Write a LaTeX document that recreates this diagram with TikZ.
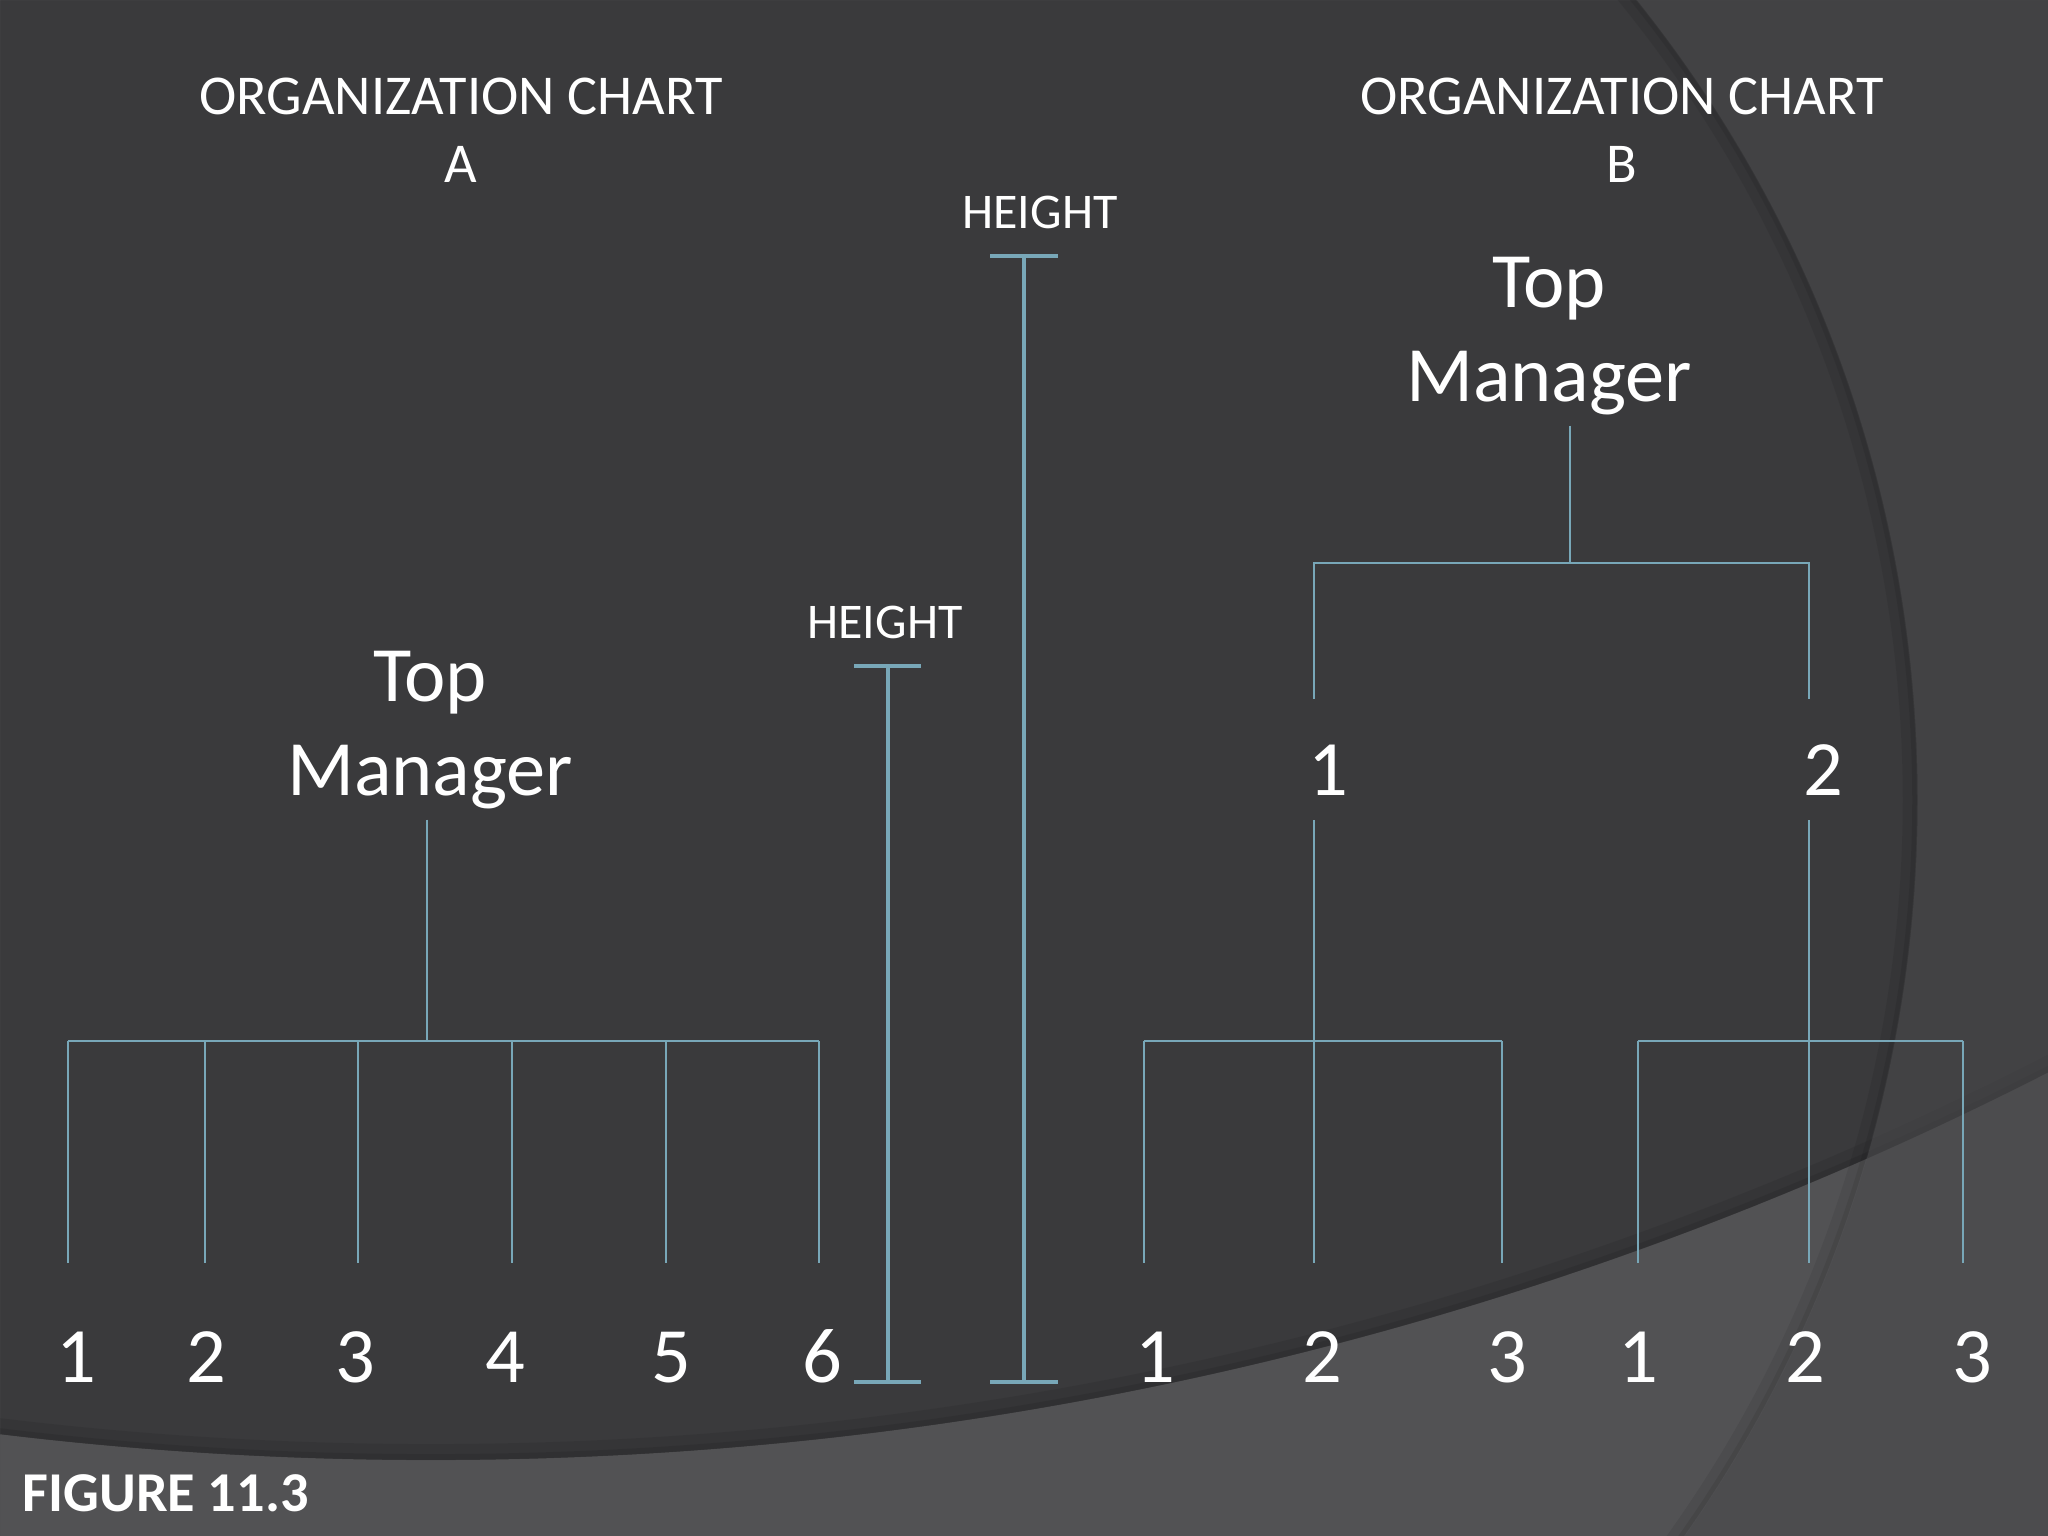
\documentclass[tikz,border=0pt]{standalone}
\usepackage{fontspec}
\setmainfont{Carlito}
\usetikzlibrary{positioning}
\definecolor{slidebg}{HTML}{3A3A3C}
\definecolor{slideband}{HTML}{525254}
\definecolor{slidearc}{HTML}{48484A}
\definecolor{chartline}{HTML}{78A7B8}
\tikzset{
  orgline/.style={draw=chartline, line width=0.75pt},
  hbar/.style={draw=chartline, line width=0.9pt},
  mgr/.style={text=white, align=center, anchor=base, inner sep=3pt, font=\fontsize{22.3}{26.7}\selectfont},
  num/.style={text=white, anchor=base, inner sep=0pt, font=\fontsize{22.3}{26.7}\selectfont},
  charttitle/.style={text=white, align=center, anchor=base, inner sep=0pt, font=\fontsize{16}{19.1}\selectfont},
  hlabel/.style={text=white, anchor=base, inner sep=0pt, font=\fontsize{14.2}{17}\selectfont},
}

\begin{document}
\begin{tikzpicture}[x=0.01cm,y=-0.01cm]
  \useasboundingbox (0,0) rectangle (2048,1536);
  % slide background
  \begin{scope}
    \clip (0,0) rectangle (2048,1536);
    \fill[slidebg] (0,0) rectangle (2048,1536);
    \fill[slideband, even odd rule] (0,0) rectangle (2048,1536) (431,-2100) circle (35.58cm);
    \draw[black, opacity=0.07, line width=0.16cm] (431,-2100) circle (35.50cm);
    \draw[black, opacity=0.08, line width=0.06cm] (431,-2100) circle (35.55cm);
    \fill[slidearc, opacity=0.6, even odd rule] (0,0) rectangle (2048,1536) (638,800) circle (12.79cm);
    \draw[black, opacity=0.07, line width=0.14cm] (638,800) circle (12.71cm);
    \draw[black, opacity=0.08, line width=0.05cm] (638,800) circle (12.76cm);
  \end{scope}

  % titles (base = last line)
  \node[charttitle] (titleA) at (461,182) {ORGANIZATION CHART\\A};
  \node[charttitle] (titleB) at (1622,182) {ORGANIZATION CHART\\B};

  % chart A: flat
  \node[mgr] (topA) at (430,795) {Top\\Manager};
  \coordinate (busA) at (427,1041);
  \draw[orgline] (topA.south -| busA) -- (busA);
  \draw[orgline] (68,1041) -- (819,1041);
  \foreach \lx/\nx [count=\i] in {68/76,205/206,358/355,512/505,666/671,819/822}{
    \coordinate (legA\i) at (\lx,1263);
    \draw[orgline] (legA\i |- busA) -- (legA\i);
    \node[num] (nA\i) at (\nx,1382) {\i};
  }

  % height bars
  \node[hlabel] (hL) at (885,638) {HEIGHT};
  \coordinate (hLtop) at (888,666);
  \coordinate (hLbot) at (888,1382);
  \draw[hbar] (hLtop) -- (hLbot);
  \draw[hbar] (hLtop) ++(-34,0) -- ++(67,0);
  \draw[hbar] (hLbot) ++(-34,0) -- ++(67,0);

  \node[hlabel] (hR) at (1040,228) {HEIGHT};
  \coordinate (hRtop) at (1024,256);
  \coordinate (hRbot) at (1024,1382);
  \draw[hbar] (hRtop) -- (hRbot);
  \draw[hbar] (hRtop) ++(-34,0) -- ++(68,0);
  \draw[hbar] (hRbot) ++(-34,0) -- ++(68,0);

  % chart B: tall
  \node[mgr] (topB) at (1549,401) {Top\\Manager};
  \coordinate (hubB) at (1570,563);
  \draw[orgline] (topB.south -| hubB) -- (hubB);
  \coordinate (armB1) at (1314,699);
  \coordinate (armB2) at (1809,699);
  \draw[orgline] (armB1) -- (armB1 |- hubB) -- (armB2 |- hubB) -- (armB2);

  \node[num] (midB1) at (1328,795) {1};
  \node[num] (midB2) at (1823,795) {2};
  \coordinate (busB1) at (1314,1041);
  \coordinate (busB2) at (1809,1041);
  \draw[orgline] (1314,820) -- (busB1);
  \draw[orgline] (1809,820) -- (busB2);
  \draw[orgline] (1144,1041) -- (1502,1041);
  \draw[orgline] (1638,1041) -- (1963,1041);
  \foreach \lx/\nx [count=\i] in {1144/1155,1314/1322,1502/1507}{
    \coordinate (legB\i) at (\lx,1263);
    \draw[orgline] (legB\i |- busB1) -- (legB\i);
    \node[num] (nB\i) at (\nx,1382) {\i};
  }
  \foreach \lx/\nx [count=\i] in {1638/1638,1809/1805,1963/1972}{
    \coordinate (legC\i) at (\lx,1263);
    \draw[orgline] (legC\i |- busB2) -- (legC\i);
    \node[num] (nC\i) at (\nx,1382) {\i};
  }

  \node[text=white, anchor=base west, inner sep=0pt, font=\bfseries\fontsize{16}{19.1}\selectfont] (fig) at (22,1511) {FIGURE 11.3};
\end{tikzpicture}
\end{document}
